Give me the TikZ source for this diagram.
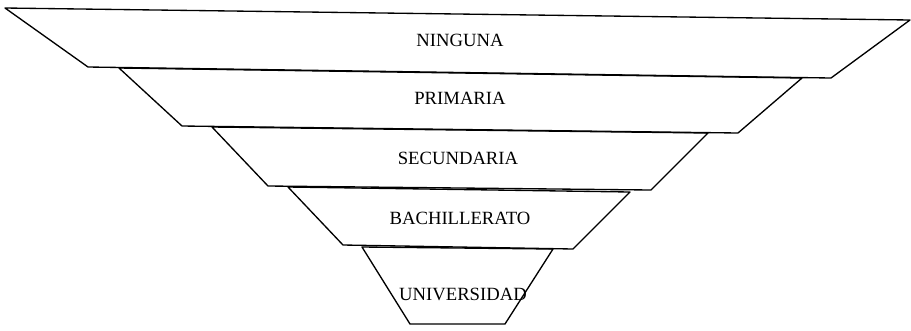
\documentclass[tikz,border=0pt]{standalone}
\usepackage{fontspec}
\setmainfont{Liberation Serif}
\usepackage{tikz}
\tikzset{capa/.style={draw=black, line width=1pt, line join=round}}
\tikzset{rotulo/.style={inner sep=0pt, font=\fontsize{14}{16}\selectfont}}
\newcommand{\marco}{
    \useasboundingbox (0,0) rectangle (911,330);
}

\begin{document}
\begin{tikzpicture}[x=0.75pt, y=-0.75pt]
        \marco

        % capas del embudo
        \draw[capa] (5,8) -- (910,20) -- (831,78) -- (88,67) -- cycle;
        \draw[capa] (119,68) -- (802,78) -- (738,133) -- (182,126) -- cycle;
        \draw[capa] (212,127) -- (708,133) -- (651,190) -- (268,186) -- cycle;
        \draw[capa] (288,187) -- (630,192) -- (573,249) -- (343,245) -- cycle;
        \draw[capa] (362,247) -- (553,249) -- (505,324) -- (410,324) -- cycle;

        \node[rotulo] (nin) at (460,40) {NINGUNA};
        \node[rotulo] (pri) at (460,98) {PRIMARIA};
        \node[rotulo] (sec) at (458,158) {SECUNDARIA};
        \node[rotulo] (bac) at (460,218) {BACHILLERATO};
        \node[rotulo] (uni) at (463,294) {UNIVERSIDAD};
    \end{tikzpicture}
\end{document}
